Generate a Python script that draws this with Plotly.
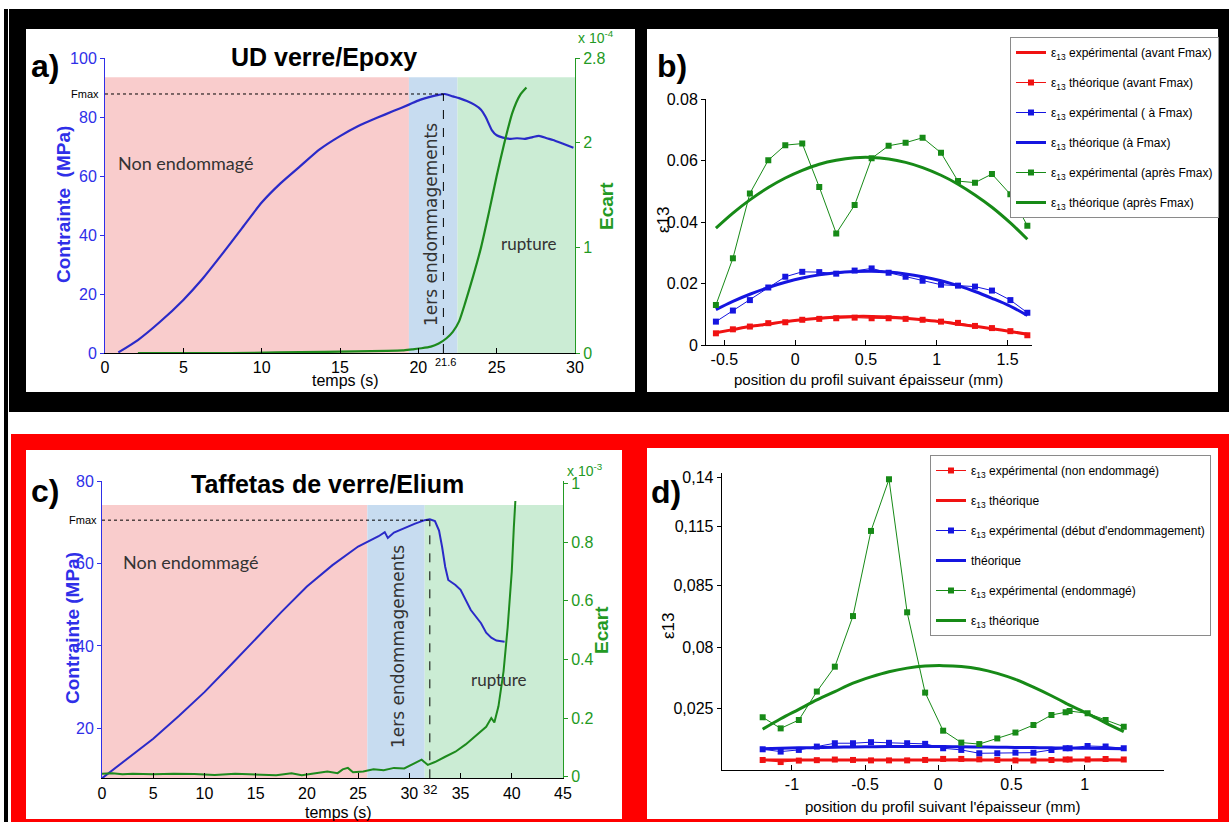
import plotly.graph_objects as go

W, H = 1229, 822

# ---------------- data ----------------
# panel a : UD verre/Epoxy
a_time = [0.85, 2.1, 3.5, 5.0, 6.2, 7.4, 8.7, 10.0, 11.2, 12.5, 13.7, 15.0, 16.2, 17.4, 18.4, 19.4,
          20.1, 20.8, 21.3, 21.7, 22.2, 22.6, 23.1, 23.6, 24.0, 24.3, 24.7, 25.0, 25.4, 25.9, 26.3,
          26.8, 27.3, 27.7, 28.2, 28.6, 29.2, 29.9]
a_stress = [0.2, 4.4, 10.5, 18.0, 25.0, 33.0, 42.0, 51.0, 57.5, 63.5, 69.0, 73.5, 77.0, 79.8, 82.0, 84.2,
            85.8, 86.9, 87.5, 87.8, 87.0, 86.4, 85.4, 84.1, 82.5, 80.0, 75.5, 73.8, 73.0, 72.6, 72.8,
            72.6, 73.2, 73.6, 72.8, 72.2, 71.0, 69.6]
a_time_ecart = [2.1, 5, 8, 11, 14, 16, 18, 19, 19.6, 20.2, 20.8, 21.3, 21.8, 22.2, 22.6, 23.0, 23.5,
                24.0, 24.5, 25.0, 25.5, 26.0, 26.5, 26.9]
a_ecart_e4 = [0.0, 0.0, 0.0, 0.005, 0.01, 0.015, 0.02, 0.025, 0.035, 0.045, 0.06, 0.09, 0.14, 0.2, 0.3,
              0.48, 0.73, 1.0, 1.33, 1.68, 2.0, 2.28, 2.45, 2.52]
a_zones = [0, 19.4, 22.5, 30]
a_zone_top = 93.5
a_fmax, a_tfmax = 87.8, 21.6

# panel b
b_pos = [-0.56, -0.44, -0.32, -0.19, -0.07, 0.05, 0.17, 0.29, 0.42, 0.54, 0.66, 0.78, 0.90, 1.03,
         1.15, 1.27, 1.39, 1.52, 1.64]
b_red_exp = [0.0038, 0.0051, 0.0060, 0.0071, 0.0074, 0.0082, 0.0085, 0.0087, 0.0089, 0.0087, 0.0087,
             0.0085, 0.0082, 0.0076, 0.0072, 0.0062, 0.0055, 0.0045, 0.0032]
b_red_theo = [0.0040, 0.0050, 0.0060, 0.0068, 0.0076, 0.0082, 0.0087, 0.0091, 0.0093, 0.0093, 0.0091,
              0.0087, 0.0082, 0.0076, 0.0068, 0.0061, 0.0053, 0.0044, 0.0035]
b_blue_exp = [0.0076, 0.0112, 0.0146, 0.0187, 0.0222, 0.0238, 0.0237, 0.0232, 0.0242, 0.0249, 0.0235,
              0.0222, 0.0209, 0.0196, 0.0193, 0.0190, 0.0177, 0.0146, 0.0105]
b_blue_theo = [0.0115, 0.0142, 0.0165, 0.0187, 0.0204, 0.0218, 0.0228, 0.0235, 0.0239, 0.0240, 0.0237,
               0.0231, 0.0222, 0.0209, 0.0193, 0.0174, 0.0152, 0.0126, 0.0096]
b_green_exp = [0.0130, 0.0282, 0.0493, 0.0601, 0.0650, 0.0655, 0.0514, 0.0363, 0.0455, 0.0607, 0.0648,
               0.0658, 0.0674, 0.0625, 0.0533, 0.0528, 0.0556, 0.0490, 0.0388]
b_green_theo = [0.0380, 0.0429, 0.0472, 0.0512, 0.0543, 0.0568, 0.0588, 0.0601, 0.0609, 0.0610, 0.0605,
                0.0594, 0.0577, 0.0552, 0.0523, 0.0488, 0.0448, 0.0397, 0.0344]
b_xticks = [-0.5, 0, 0.5, 1, 1.5]
b_yticks = [0, 0.02, 0.04, 0.06, 0.08]

# panel c : Taffetas de verre/Elium
c_time = [0, 2.5, 5, 7.5, 10, 12.5, 15, 17.5, 20, 22.5, 25, 26, 27, 27.6, 27.9, 28.5, 29.5, 30.5, 31.5,
          32, 32.5, 32.9, 33.2, 33.5, 33.8, 34.5, 35, 35.5, 36, 37, 37.5, 38, 38.5, 39.3]
c_stress = [7.9, 12.8, 17.5, 23.0, 28.8, 35.2, 41.8, 48.2, 54.4, 59.6, 64.1, 65.3, 66.6, 67.6, 66.2,
            67.5, 68.6, 69.6, 70.5, 70.7, 70.3, 68.0, 64.0, 59.2, 56.0, 54.8, 53.6, 51.0, 48.7, 45.5,
            43.2, 42.0, 41.3, 41.0]
c_time_ecart = [0, 1, 2, 3, 5, 7, 9, 11, 13, 15, 17, 18.5, 19.5, 20.5, 22, 23, 23.5, 24, 24.5, 25.5,
                26.5, 27.5, 28.5, 29.5, 30.5, 31.2, 31.8, 32.5, 33.5, 34.5, 35.5, 36.5, 37.5, 38.0,
                38.3, 38.7, 39.2, 39.6, 40.0, 40.2, 40.35]
c_ecart_e3 = [0.010, 0.012, 0.008, 0.010, 0.008, 0.010, 0.009, 0.006, 0.010, 0.008, 0.005, 0.012,
              0.005, 0.010, 0.018, 0.012, 0.025, 0.030, 0.015, 0.018, 0.025, 0.022, 0.030, 0.028,
              0.045, 0.058, 0.040, 0.050, 0.068, 0.085, 0.110, 0.140, 0.170, 0.200, 0.185, 0.240,
              0.360, 0.510, 0.700, 0.850, 0.940]
c_zones = [0, 25.9, 31.5, 45]
c_zone_top = 74.2
c_fmax, c_tfmax = 70.5, 32

# panel d
d_pos = [-1.2, -1.077, -0.953, -0.83, -0.707, -0.583, -0.46, -0.337, -0.213, -0.09, 0.033, 0.157,
         0.28, 0.403, 0.527, 0.65, 0.773, 0.87, 0.897, 1.02, 1.143, 1.267]
d_red_exp = [0.0048, 0.0038, 0.0045, 0.0047, 0.0050, 0.0048, 0.0046, 0.0046, 0.0046, 0.0048, 0.0053,
             0.0053, 0.0051, 0.0048, 0.0046, 0.0046, 0.0048, 0.0050, 0.0050, 0.0050, 0.0053, 0.0050]
d_red_theo = [0.0048] * 22
d_blue_exp = [0.0099, 0.0088, 0.0096, 0.0112, 0.0128, 0.0128, 0.0133, 0.0130, 0.0128, 0.0125, 0.0104,
              0.0096, 0.0080, 0.0080, 0.0083, 0.0083, 0.0096, 0.0104, 0.0104, 0.0115, 0.0112, 0.0104]
d_blue_theo = [0.0102, 0.0104, 0.0106, 0.0107, 0.0109, 0.0110, 0.0111, 0.0112, 0.0112, 0.0112, 0.0112,
               0.0111, 0.0110, 0.0109, 0.0108, 0.0107, 0.0106, 0.0105, 0.0105, 0.0104, 0.0103, 0.0102]
d_green_exp = [0.0252, 0.0199, 0.0239, 0.0375, 0.0494, 0.0736, 0.1143, 0.1390, 0.0754, 0.0370, 0.0188,
               0.0131, 0.0124, 0.0151, 0.0179, 0.0215, 0.0263, 0.0276, 0.0282, 0.0271, 0.0239, 0.0207]
d_green_theo = [0.0195, 0.0245, 0.0290, 0.0335, 0.0375, 0.0415, 0.0445, 0.0470, 0.0487, 0.0497, 0.0499,
                0.0495, 0.0483, 0.0462, 0.0433, 0.0396, 0.0355, 0.0320, 0.0310, 0.0270, 0.0225, 0.0183]
d_xticks = [-1, -0.5, 0, 0.5, 1]
d_ytick_pos = [0.0295, 0.0585, 0.0881, 0.1164, 0.1400]
d_ytick_txt = ["0,025", "0,08", "0,085", "0,115", "0,14"]

# ---------------- styling ----------------
def px(x):
    return x / W

def py(y):
    return 1 - y / H

NARROW = "Liberation Sans, Arial, sans-serif"
SANS = "Liberation Sans, Arial, sans-serif"
HUMAN = "Lato, Open Sans, sans-serif"

CURVE_BLUE = "#2a2ac8"
CURVE_GREEN = "#1d8a1d"
AX_BLUE = "#2f2fe8"
AX_GREEN = "#239a23"
RED = "#f01212"
BLUE = "#1515e0"
GREEN = "#178a17"
PINK_Z = "rgb(249,204,204)"
BLUE_Z = "rgb(199,220,240)"
GREEN_Z = "rgb(203,236,212)"

fig = go.Figure()

# panel a
fig.add_trace(go.Scatter(x=a_time, y=a_stress, xaxis="x", yaxis="y", mode="lines",
                         line=dict(color=CURVE_BLUE, width=2.2, shape="spline", smoothing=0.6),
                         showlegend=False))
fig.add_trace(go.Scatter(x=a_time_ecart, y=a_ecart_e4, xaxis="x", yaxis="y2", mode="lines",
                         line=dict(color=CURVE_GREEN, width=2.2, shape="spline", smoothing=0.6),
                         showlegend=False))
# panel c
fig.add_trace(go.Scatter(x=c_time, y=c_stress, xaxis="x3", yaxis="y4", mode="lines",
                         line=dict(color=CURVE_BLUE, width=2), showlegend=False))
fig.add_trace(go.Scatter(x=c_time_ecart, y=c_ecart_e3, xaxis="x3", yaxis="y5", mode="lines",
                         line=dict(color=CURVE_GREEN, width=2), showlegend=False))

E = "ε<sub>13</sub> "

def theo(x, y, color, name, xa, ya, leg, grp):
    return go.Scatter(x=x, y=y, xaxis=xa, yaxis=ya, mode="lines", name=name,
                      line=dict(color=color, width=3, shape="spline"),
                      legend=leg, legendgroup=grp)

def expe(x, y, color, name, xa, ya, leg, grp):
    return go.Scatter(x=x, y=y, xaxis=xa, yaxis=ya, mode="lines+markers", name=name,
                      line=dict(color=color, width=1),
                      marker=dict(symbol="square", size=6, color=color),
                      legend=leg, legendgroup=grp)

# panel b (legend order as in the picture)
fig.add_trace(theo(b_pos, b_red_theo, RED, E + "expérimental (avant Fmax)", "x2", "y3", "legend", "b1"))
fig.add_trace(expe(b_pos, b_red_exp, RED, E + "théorique (avant Fmax)", "x2", "y3", "legend", "b2"))
fig.add_trace(expe(b_pos, b_blue_exp, BLUE, E + "expérimental ( à Fmax)", "x2", "y3", "legend", "b3"))
fig.add_trace(theo(b_pos, b_blue_theo, BLUE, E + "théorique (à Fmax)", "x2", "y3", "legend", "b4"))
fig.add_trace(expe(b_pos, b_green_exp, GREEN, E + "expérimental (après Fmax)", "x2", "y3", "legend", "b5"))
fig.add_trace(theo(b_pos, b_green_theo, GREEN, E + "théorique (après Fmax)", "x2", "y3", "legend", "b6"))

# panel d
fig.add_trace(expe(d_pos, d_red_exp, RED, E + "expérimental (non endommagé)", "x4", "y6", "legend2", "d1"))
fig.add_trace(theo(d_pos, d_red_theo, RED, E + "théorique", "x4", "y6", "legend2", "d2"))
fig.add_trace(expe(d_pos, d_blue_exp, BLUE, E + "expérimental (début d'endommagement)", "x4", "y6", "legend2", "d3"))
fig.add_trace(theo(d_pos, d_blue_theo, BLUE, "théorique", "x4", "y6", "legend2", "d4"))
fig.add_trace(expe(d_pos, d_green_exp, GREEN, E + "expérimental (endommagé)", "x4", "y6", "legend2", "d5"))
fig.add_trace(theo(d_pos, d_green_theo, GREEN, E + "théorique", "x4", "y6", "legend2", "d6"))

# ---------------- shapes ----------------
shapes = []

def prect(x0, y0, x1, y1, color):
    shapes.append(dict(type="rect", xref="paper", yref="paper", x0=px(x0), x1=px(x1),
                       y0=py(y1), y1=py(y0), fillcolor=color, line=dict(width=0), layer="below"))

prect(4, 9, 8, 822, "black")
prect(9, 9, 1229, 412, "black")
prect(26, 29, 635, 392, "white")
prect(647, 29, 1218, 392, "white")
prect(11, 434, 1229, 822, "red")
prect(26, 450, 622, 819, "white")
prect(647, 448, 1218, 819, "white")

for zones, top, bottom, xa, ya in [(a_zones, a_zone_top, 0, "x", "y"), (c_zones, c_zone_top, 7.9, "x3", "y4")]:
    for (z0, z1, col) in zip(zones[:-1], zones[1:], [PINK_Z, BLUE_Z, GREEN_Z]):
        shapes.append(dict(type="rect", xref=xa, yref=ya, x0=z0, x1=z1, y0=bottom, y1=top,
                           fillcolor=col, line=dict(width=0), layer="below"))

for fmax, tf, x0, y0, xa, ya in [(a_fmax, a_tfmax, 0, 0, "x", "y"), (c_fmax, c_tfmax, 0, 7.9, "x3", "y4")]:
    shapes.append(dict(type="line", xref=xa, yref=ya, x0=x0, x1=tf, y0=fmax, y1=fmax,
                       line=dict(color="black", width=1, dash="dot")))
    shapes.append(dict(type="line", xref=xa, yref=ya, x0=tf, x1=tf, y0=y0, y1=fmax,
                       line=dict(color="black", width=1, dash="dash")))

# ---------------- annotations ----------------
ann = []

def txt(x, y, s, size, color="black", family=SANS, bold=False, angle=0, xanchor="center", yanchor="middle"):
    if bold:
        s = "<b>" + s + "</b>"
    ann.append(dict(x=px(x), y=py(y), xref="paper", yref="paper", text=s, showarrow=False,
                    font=dict(size=size, color=color, family=family), textangle=angle,
                    xanchor=xanchor, yanchor=yanchor))

# a
txt(45, 66, "a)", 32, bold=True)
txt(324, 57, "UD verre/Epoxy", 25, bold=True)
txt(64, 205, "Contrainte  (MPa)", 19, AX_BLUE, bold=True, angle=-90)
txt(606, 206, "Ecart", 19, AX_GREEN, bold=True, angle=-90)
txt(345, 381, "temps (s)", 16, family=NARROW)
txt(185, 163, "Non endommagé", 18, "#333", family=HUMAN)
txt(431, 225, "1ers endommagements", 17, "#333", family="DejaVu Sans", angle=-90)
txt(528, 243, "rupture", 17, "#333", family=HUMAN)
txt(101, 94, "Fmax", 11, family=NARROW, xanchor="right")
txt(445, 362, "21.6", 11, family=NARROW)
txt(576, 37, "x 10<sup>-4</sup>", 14, AX_GREEN, family=NARROW, xanchor="left")
# b
txt(672, 66, "b)", 32, bold=True)
txt(663, 220, "ε13", 17, family=NARROW, angle=-90)
txt(868, 379, "position du profil suivant épaisseur (mm)", 15, family=NARROW)
# c
txt(45, 491, "c)", 32, bold=True)
txt(327, 484, "Taffetas de verre/Elium", 25, bold=True)
txt(72, 628, "Contrainte (MPa)", 19, AX_BLUE, bold=True, angle=-90)
txt(601, 630, "Ecart", 19, AX_GREEN, bold=True, angle=-90)
txt(338, 812, "temps (s)", 16, family=NARROW)
txt(190, 562, "Non endommagé", 18, "#333", family=HUMAN)
txt(398, 647, "1ers endommagements", 17, "#333", family="DejaVu Sans", angle=-90)
txt(498, 679, "rupture", 17, "#333", family=HUMAN)
txt(99, 520, "Fmax", 11, family=NARROW, xanchor="right")
txt(430, 789, "32", 13, family=NARROW)
txt(565, 470, "x 10<sup>-3</sup>", 14, AX_GREEN, family=NARROW, xanchor="left")
# d
txt(666, 492, "d)", 32, bold=True)
txt(668, 626, "ε13", 17, family=NARROW, angle=-90)
txt(942, 806, "position du profil suivant l'épaisseur (mm)", 15, family=NARROW)

# ---------------- axes ----------------
TICK_SIZE = 16
TF = dict(family=NARROW, size=TICK_SIZE, color="black")

def xax(dom, rng, anchor, tickvals, ticktext=None):
    d = dict(domain=[px(dom[0]), px(dom[1])], range=rng, anchor=anchor, showgrid=False,
             zeroline=False, showline=True, linecolor="black", linewidth=1, ticks="inside",
             ticklen=5, tickcolor="black", tickfont=TF, tickvals=tickvals, automargin=False)
    if ticktext is not None:
        d["ticktext"] = ticktext
    return d

def yax(dom, rng, anchor, tickvals, ticktext, color="black", side="left", overlay=None):
    d = dict(range=rng, anchor=anchor, showgrid=False, zeroline=False, showline=True,
             linecolor=color, linewidth=1, ticks="outside", ticklen=4, tickcolor=color,
             tickfont=dict(family=NARROW, size=TICK_SIZE, color=color), tickvals=tickvals,
             ticktext=ticktext, side=side, automargin=False)
    if overlay:
        d["overlaying"] = overlay
    else:
        d["domain"] = [py(dom[1]), py(dom[0])]
    return d

LEG = dict(xanchor="left", yanchor="top", bgcolor="white", bordercolor="#8a8a8a", borderwidth=1,
           font=dict(family=NARROW, size=12), tracegroupgap=11, itemwidth=30)

layout = dict(
    width=W, height=H, autosize=False, margin=dict(l=0, r=0, t=0, b=0, autoexpand=False),
    paper_bgcolor="white", plot_bgcolor="rgba(0,0,0,0)",
    font=dict(family=NARROW, size=14, color="black"),
    shapes=shapes, annotations=ann,
    xaxis=xax((105, 575), [0, 30], "y", [0, 5, 10, 15, 20, 25, 30]),
    yaxis=yax((58, 353), [0, 100], "x", [0, 20, 40, 60, 80, 100],
              ["0", "20", "40", "60", "80", "100"], color=AX_BLUE),
    yaxis2=yax(None, [0, 2.8], "x", [0, 1, 2, 2.8], ["0", "1", "2", "2.8"],
               color=AX_GREEN, side="right", overlay="y"),
    xaxis2=xax((706, 1031.6), [-0.63, 1.67], "y3", b_xticks, ["-0.5", "0", "0.5", "1", "1.5"]),
    yaxis3=yax((99, 345), [0, 0.08], "x2", b_yticks, ["0", "0.02", "0.04", "0.06", "0.08"]),
    xaxis3=xax((102, 563), [0, 45], "y4", [0, 5, 10, 15, 20, 25, 30, 35, 40, 45]),
    yaxis4=yax((481, 778.3), [7.9, 80], "x3", [20, 40, 60, 80], ["20", "40", "60", "80"], color=AX_BLUE),
    yaxis5=yax(None, [-0.0055, 1.008], "x3", [0, 0.2, 0.4, 0.6, 0.8, 1],
               ["0", "0.2", "0.4", "0.6", "0.8", "1"], color=AX_GREEN, side="right", overlay="y4"),
    xaxis4=xax((721.7, 1163.7), [-1.48, 1.54], "y6", d_xticks, ["-1", "-0.5", "0", "0.5", "1"]),
    yaxis6=yax((473, 770), [0, 0.142], "x4", d_ytick_pos, d_ytick_txt),
    legend=dict(LEG, x=px(1010), y=py(37)),
    legend2=dict(LEG, x=px(930), y=py(455)),
)
fig.update_layout(**layout)
fig.write_html("out.html", config={"displayModeBar": False},
               post_script="document.body.style.margin='0px';")
